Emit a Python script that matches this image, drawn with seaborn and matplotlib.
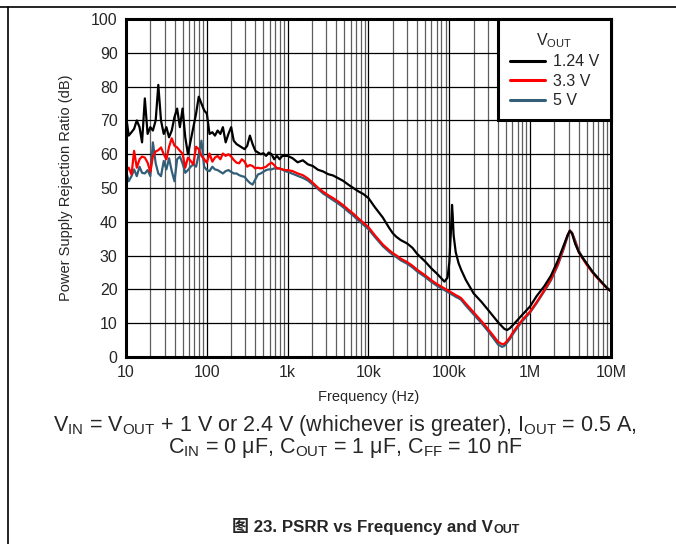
import numpy as np
import pandas as pd
import matplotlib
matplotlib.use("Agg")
import matplotlib.pyplot as plt
import matplotlib.ticker as mticker
from matplotlib.lines import Line2D
import seaborn as sns

# PSRR vs frequency and VOUT

freq = [10, 10.8, 11.7, 12.6, 13.6, 14.7, 15.8, 17.1, 18.5, 20.0,
        21.5, 23.3, 25.1, 27.1, 29.3, 31.6, 34.1, 36.8, 39.8, 42.9,
        46.4, 50.1, 54.1, 58.4, 63.1, 68.1, 73.6, 79.4, 85.8, 92.6,
        100, 108, 117, 126, 136, 147, 158, 171, 185, 200,
        215, 233, 251, 271, 293, 316, 341, 368, 398, 429,
        464, 501, 541, 584, 631, 681, 736, 794, 858, 926, 1000,
        1150, 1330, 1540, 1780, 2050, 2370, 2740, 3160, 3650, 4220,
        4870, 5620, 6490, 7500, 8660, 10e3,
        12e3, 15e3, 18e3, 20e3, 22e3, 25e3, 30e3, 35e3, 40e3, 50e3,
        60e3, 70e3, 80e3, 87e3, 95e3, 100e3, 105e3, 108e3, 110e3, 113e3,
        120e3, 130e3, 140e3, 160e3, 200e3, 250e3, 300e3, 350e3, 400e3, 450e3,
        480e3, 520e3, 560e3, 620e3, 700e3, 800e3, 1e6, 1.2e6, 1.5e6, 1.8e6,
        2.2e6, 2.6e6, 2.9e6, 3.1e6, 3.3e6, 3.6e6, 4e6, 4.5e6, 5e6, 6e6,
        7e6, 8e6, 9e6, 10e6]

psrr_124 = [71.5, 65.5, 66.5, 67.5, 70, 68, 63.5, 76.5, 66, 68,
            67, 70, 80.5, 70, 66, 68, 65, 67, 71, 73.5,
            68, 73.5, 65, 60, 64, 68, 72, 77, 75, 73,
            72, 66, 66.5, 65.5, 67, 66, 68, 63.5, 66, 68,
            64, 63, 62.5, 62, 61.5, 62.5, 65.5, 63, 61, 60.5,
            60, 60.3, 59.5, 60.5, 60, 58.5, 59.5, 58.5, 59.5, 59.5, 59.5,
            58.8, 57.6, 58.2, 57, 56.5, 55.4, 54.9, 54.1, 53.7, 52.9,
            52.1, 51, 50, 49, 48.2, 47,
            44.3, 41.3, 38.2, 36.6, 35.6, 34.6, 33.6, 32.3, 30.5, 28.3,
            26.2, 24.7, 23.2, 22.3, 23.5, 28, 38, 45, 42, 36,
            31, 27.8, 25.8, 22.8, 18.8, 16.3, 14, 12, 10.3, 9,
            8.3, 8, 8.5, 9.6, 11, 12.5, 15, 18, 21, 24,
            28.5, 33, 36, 37.4, 36.5, 33.5, 31, 29.2, 27.7, 25,
            23.2, 21.6, 20.3, 19.4]

psrr_33 = [55, 56, 54, 61, 56, 58.5, 59.3, 59, 57.5, 54.8,
           59.3, 60.8, 61.2, 62, 60, 58.5, 62.2, 64.7, 62.5, 62,
           61, 60.2, 56, 59, 58, 57, 62.2, 61.5, 59.5, 58.5,
           57.5, 60.2, 57.8, 59, 59.5, 58.5, 60.2, 59.5, 60, 59.3,
           58.3, 57.5, 57.3, 58.5, 57.8, 56.3, 56.8, 56.5, 55.8, 56,
           55.8, 56, 56.3, 57, 57.5, 56.8, 55.8, 55.8, 55.5, 55.3, 55.3,
           55, 54.3, 53.8, 52.8, 51.5, 50.1, 48.9, 47.9, 47, 46,
           44.9, 43.6, 42.4, 41, 39.7, 38.4,
           36, 33.3, 31.6, 30.7, 30.1, 29.1, 28.1, 27, 25.8, 24.2,
           22.7, 21.6, 20.8, 20.3, 19.8, 19.5, 19.2, 19, 18.9, 18.7,
           18.3, 17.9, 17.4, 15.8, 13.2, 10.6, 8.3, 6.3, 4.5, 3.8,
           3.9, 4.8, 5.8, 7.5, 9.2, 11, 13.5, 16.2, 19.8, 23,
           27.5, 32.5, 36, 37.4, 36.6, 34, 31, 29, 27.3, 24.8,
           23, 21.5, 20.3, 19.5]

psrr_5 = [55, 52, 53.5, 55.5, 53.5, 56.3, 54.5, 54.3, 55.3, 53.5,
          63.5, 57.3, 54.3, 53.5, 58, 55.5, 58.8, 55, 52, 58.5,
          59.3, 57.3, 54.5, 55.3, 56.3, 57, 56.3, 60, 64, 56.3,
          55.3, 55, 56.3, 55.5, 55.3, 54.8, 54.3, 55, 55.3, 54.8,
          54.3, 54.3, 53.8, 53.5, 53.3, 52.3, 51.5, 51, 52.5, 54,
          54.3, 54.8, 55.3, 55.5, 55.5, 55.8, 55.8, 55.8, 55.5, 55, 54.8,
          54.2, 53.6, 53, 52.2, 51, 49.7, 48.4, 47.4, 46.4, 45.4,
          44.3, 43, 41.8, 40.4, 39.1, 37.8,
          35.5, 32.8, 31.1, 30.2, 29.6, 28.6, 27.6, 26.5, 25.3, 23.7,
          22.2, 21.1, 20.3, 19.8, 19.3, 19, 18.7, 18.5, 18.4, 18.2,
          17.8, 17.4, 16.9, 15.2, 12.6, 10, 7.7, 5.6, 3.7, 3,
          3.3, 4.3, 5.3, 7, 8.8, 10.6, 13.2, 15.9, 19.5, 22.6,
          27.1, 32, 35.6, 37.2, 36.8, 34.5, 31.4, 29.3, 27.5, 25,
          23.1, 21.6, 20.4, 19.6]

series_labels = ["1.24 V", "3.3 V", "5 V"]
series_colors = ["#000000", "#ff0000", "#325e78"]

x_ticks = [10, 100, 1e3, 1e4, 1e5, 1e6, 1e7]
x_tick_labels = ["10", "100", "1k", "10k", "100k", "1M", "10M"]
y_ticks = list(range(0, 101, 10))

sns.set_style("white")
plt.rcParams['font.family'] = ['Liberation Sans', 'Noto Sans CJK SC', 'DejaVu Sans']
plt.rcParams['mathtext.fontset'] = 'custom'
plt.rcParams['mathtext.rm'] = 'Liberation Sans'
plt.rcParams['mathtext.bf'] = 'Liberation Sans:bold'

df = pd.DataFrame({
    "freq": freq * 3,
    "psrr": psrr_124 + psrr_33 + psrr_5,
    "vout": [series_labels[0]] * len(freq) + [series_labels[1]] * len(freq) + [series_labels[2]] * len(freq),
})

fig = plt.figure(figsize=(6.76, 5.44), dpi=100)
ax = fig.add_axes([126 / 676, 1 - 357 / 544, (611 - 126) / 676, (357 - 19) / 544])

# draw 5 V first so black ends on top
for lab, col in reversed(list(zip(series_labels, series_colors))):
    sns.lineplot(data=df[df["vout"] == lab], x="freq", y="psrr", color=col,
                 lw=1.6, label=lab, estimator=None, ax=ax)

ax.set_xscale("log")
ax.set_xlim(10, 1e7)
ax.set_ylim(0, 100)
ax.xaxis.set_major_locator(mticker.FixedLocator(x_ticks))
ax.xaxis.set_major_formatter(mticker.FixedFormatter(x_tick_labels))
ax.xaxis.set_minor_locator(mticker.LogLocator(base=10, subs=np.arange(2, 10), numticks=20))
ax.xaxis.set_minor_formatter(mticker.NullFormatter())
ax.set_yticks(y_ticks)
ax.tick_params(which="both", length=0, labelsize=11.5, pad=6)
ax.set_axisbelow(True)
ax.grid(which="major", axis="both", color="black", lw=0.9)
ax.grid(which="minor", axis="x", color="#5e5e5e", lw=0.9)
for s in ax.spines.values():
    s.set_linewidth(2.2)
    s.set_color("black")

ax.set_xlabel("Frequency (Hz)", fontsize=10.5, labelpad=7)
ax.set_ylabel("Power Supply Rejection Ratio (dB)", fontsize=10.5, labelpad=13)

handles, labels = ax.get_legend_handles_labels()
order = [labels.index(l) for l in series_labels]
leg = ax.legend([handles[i] for i in order], [labels[i] for i in order],
                title=r"V$_{\mathrm{OUT}}$", loc="upper right", borderaxespad=0,
                fontsize=11.5, title_fontsize=11.5, frameon=True, fancybox=False,
                framealpha=1, edgecolor="black", handlelength=2.2,
                handletextpad=0.5, labelspacing=0.28, borderpad=0.75)
leg.get_frame().set_linewidth(2.2)
for h in leg.legend_handles:
    h.set_linewidth(2.2)

# captions
fig.text(345 / 676, 1 - 425 / 544,
         r"V$_{\mathrm{IN}}$ = V$_{\mathrm{OUT}}$ + 1 V or 2.4 V (whichever is greater), I$_{\mathrm{OUT}}$ = 0.5 A,",
         ha="center", va="center", fontsize=15.5)
fig.text(345 / 676, 1 - 448 / 544,
         r"C$_{\mathrm{IN}}$ = 0 μF, C$_{\mathrm{OUT}}$ = 1 μF, C$_{\mathrm{FF}}$ = 10 nF",
         ha="center", va="center", fontsize=15.5)

# figure title: plain text (CJK fallback) plus a hand-placed subscript
t = fig.text(232 / 676, 1 - 532 / 544, "图 23. PSRR vs Frequency and V",
             ha="left", va="baseline", fontsize=12.2, fontweight="bold")
ax.annotate("OUT", xy=(1, 0), xycoords=t, xytext=(0.3, -0.8), textcoords="offset points",
            ha="left", va="bottom", fontsize=9, fontweight="bold", annotation_clip=False)

# page frame lines
fig.add_artist(Line2D([0, 1], [1 - 6.5 / 544, 1 - 6.5 / 544], color="black", lw=1.2))
fig.add_artist(Line2D([7.5 / 676, 7.5 / 676], [0, 1 - 6.5 / 544], color="black", lw=1.2))

fig.savefig("out.png", dpi=100)
